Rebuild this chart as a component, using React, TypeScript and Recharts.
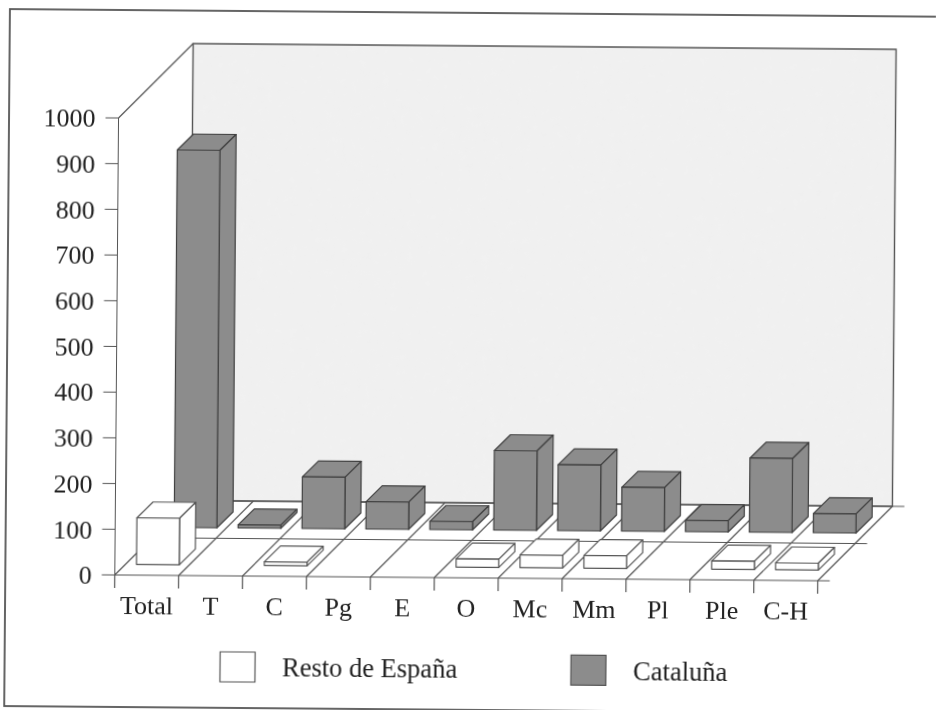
import React from "react";
import { ComposedChart, Bar, XAxis, YAxis, Customized } from "recharts";

const categories = ["Total", "T", "C", "Pg", "E", "O", "Mc", "Mm", "Pl", "Ple", "C-H"];
const restoValues = [102, null, 8, null, null, 18, 28, 28, null, 18, 15];
const cataluniaValues = [826, 7, 113, 60, 18, 174, 144, 96, 25, 162, 42];
const yTicks = [0, 100, 200, 300, 400, 500, 600, 700, 800, 900, 1000];

const rows = categories.map((name, i) => ({
  name,
  resto: restoValues[i],
  catalunia: cataluniaValues[i],
}));

const W = 936;
const H = 710;
const LEFT = 119.5;
const TOP = 117;
const PLOT_W = 703;
const PLOT_H = 457;
const BOTTOM = TOP + PLOT_H;
const DEPTH_X = 74;
const DEPTH_Y = 75;
const OVERSHOOT = 12;
const BOX_DEPTH = 16;
const BAR_W = 42.7;
const FONT = "'Liberation Serif', serif";
const INK = "#222222";
const LINE = "#555555";
const DARK = "#8c8c8c";

function Scene() {
  const band = PLOT_W / categories.length;
  const lines = [];
  for (let i = 0; i <= categories.length; i++) {
    const x = LEFT + i * band;
    lines.push(<line key={"d" + i} x1={x} y1={BOTTOM + 13} x2={x} y2={BOTTOM} stroke={LINE} strokeWidth={1.2} />);
    lines.push(<line key={"g" + i} x1={x} y1={BOTTOM} x2={x + DEPTH_X} y2={BOTTOM - DEPTH_Y} stroke={LINE} strokeWidth={1.2} />);
  }
  return (
    <g>
      <defs>
        <filter id="paper" x="0" y="0" width="100%" height="100%">
          <feTurbulence type="fractalNoise" baseFrequency="0.12" numOctaves={3} seed={4} result="n" />
          <feColorMatrix
            in="n"
            type="matrix"
            values="0 0 0 0 0.86  0 0 0 0 0.86  0 0 0 0 0.86  0.9 0 0 0 -0.2"
            result="m"
          />
          <feComposite in="m" in2="SourceGraphic" operator="in" result="c" />
          <feMerge>
            <feMergeNode in="SourceGraphic" />
            <feMergeNode in="c" />
          </feMerge>
        </filter>
      </defs>
      <rect x={10} y={9} width={950} height={697} fill="none" stroke="#555" strokeWidth={1.8} />
      <rect x={LEFT + DEPTH_X} y={TOP - DEPTH_Y} width={PLOT_W} height={PLOT_H} fill="#f1f1f1" filter="url(#paper)" />
      <rect x={LEFT + DEPTH_X} y={TOP - DEPTH_Y} width={PLOT_W} height={PLOT_H} fill="none" stroke={LINE} strokeWidth={1.4} />
      <line x1={LEFT} y1={TOP} x2={LEFT + DEPTH_X} y2={TOP - DEPTH_Y} stroke={LINE} strokeWidth={1.2} />
      {lines}
      <line x1={LEFT} y1={BOTTOM} x2={LEFT + PLOT_W + OVERSHOOT} y2={BOTTOM} stroke={LINE} strokeWidth={1.2} />
      <line x1={LEFT + DEPTH_X / 2} y1={BOTTOM - DEPTH_Y / 2} x2={LEFT + DEPTH_X / 2 + PLOT_W + OVERSHOOT} y2={BOTTOM - DEPTH_Y / 2} stroke={LINE} strokeWidth={1.2} />
      <line x1={LEFT + DEPTH_X} y1={BOTTOM - DEPTH_Y} x2={LEFT + DEPTH_X + PLOT_W + OVERSHOOT} y2={BOTTOM - DEPTH_Y} stroke={LINE} strokeWidth={1.2} />
      <rect x={225.5} y={650} width={35} height={30} fill="#ffffff" stroke={LINE} strokeWidth={1.2} />
      <text x={287.5} y={673.7} fontFamily={FONT} fontSize={26.5} fill={INK}>Resto de España</text>
      <rect x={576.4} y={650.3} width={35} height={30} fill={DARK} stroke="#555" strokeWidth={1.2} />
      <text x={638.6} y={674.8} fontFamily={FONT} fontSize={26.5} fill={INK}>Cataluña</text>
    </g>
  );
}

function makeBox(shift: number, fill: string, stroke: string) {
  return function Box(props: any) {
    const { x, y, width, height } = props;
    if (!height || height <= 0) return <g />;
    const l = x + shift;
    const r = l + width;
    const t = y - shift;
    const b = t + height;
    const d = BOX_DEPTH;
    const common = { fill, stroke, strokeWidth: 1.2, strokeLinejoin: "round" as const };
    return (
      <g>
        <polygon points={`${l},${t} ${l + d},${t - d} ${r + d},${t - d} ${r},${t}`} {...common} />
        <polygon points={`${r},${t} ${r + d},${t - d} ${r + d},${b - d} ${r},${b}`} {...common} />
        <rect x={l} y={t} width={width} height={height} {...common} />
      </g>
    );
  };
}

const RestoBox = makeBox(10.65, "#ffffff", LINE);
const CataluniaBox = makeBox(48, DARK, "#404040");

function XLabel(props: any) {
  const { x, payload } = props;
  return (
    <text x={x} y={612.8} textAnchor="middle" fontFamily={FONT} fontSize={26} fill={INK}>
      {payload.value}
    </text>
  );
}

export default function App() {
  return (
    <div style={{ position: "fixed", left: 0, top: 0, width: W, height: H, overflow: "hidden", background: "#fff" }}>
      <div style={{ transform: "rotate(0.47deg)", transformOrigin: "0 0", width: W, height: H, filter: "blur(0.35px)" }}>
        <ComposedChart
          width={W}
          height={H}
          data={rows}
          margin={{ left: LEFT - 100, top: TOP, right: W - LEFT - PLOT_W, bottom: H - BOTTOM - 40 }}
          style={{ overflow: "visible" }}
        >
          <Customized component={Scene} />
          <XAxis xAxisId="front" dataKey="name" height={40} axisLine={false} tickLine={false} interval={0} tick={<XLabel />} />
          <XAxis xAxisId="back" dataKey="name" height={0} hide />
          <YAxis
            width={100}
            domain={[0, 1000]}
            ticks={yTicks}
            interval={0}
            tickSize={13}
            tickMargin={10}
            stroke={LINE}
            tick={{ fontFamily: FONT, fontSize: 26, fill: INK }}
          />
          <Bar xAxisId="back" dataKey="catalunia" barSize={BAR_W} shape={CataluniaBox} isAnimationActive={false} />
          <Bar xAxisId="front" dataKey="resto" barSize={BAR_W} shape={RestoBox} isAnimationActive={false} />
        </ComposedChart>
      </div>
    </div>
  );
}
